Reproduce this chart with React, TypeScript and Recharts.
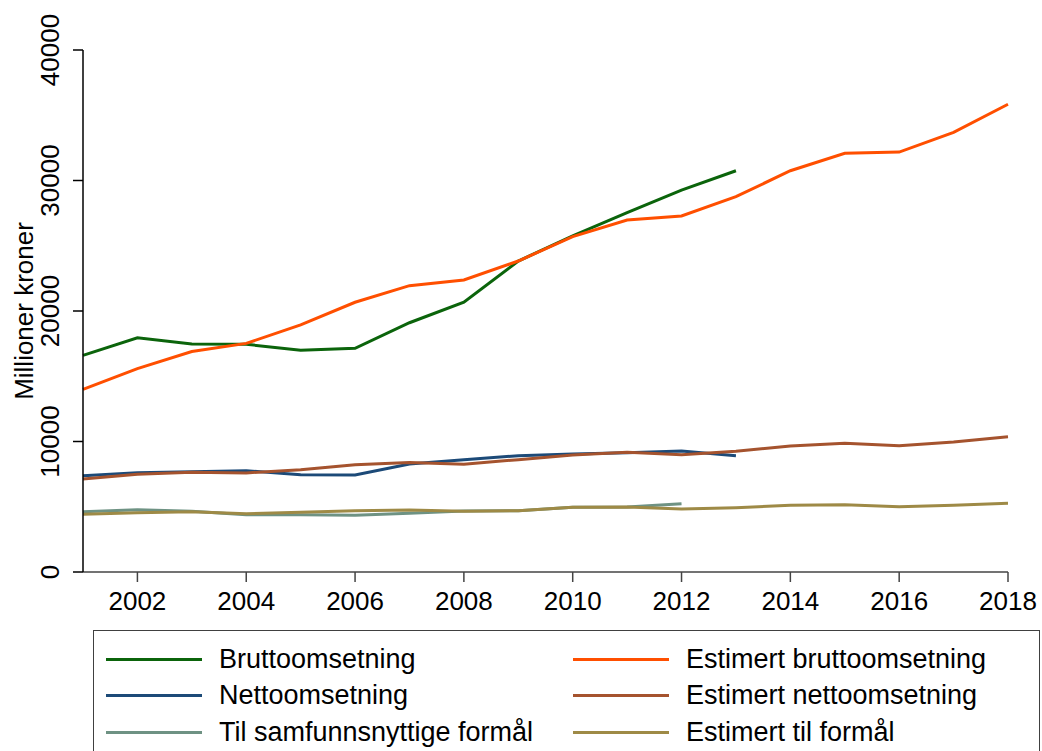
import React from 'react';
import { LineChart, Line, XAxis, YAxis, Legend } from 'recharts';

const years = [2001, 2002, 2003, 2004, 2005, 2006, 2007, 2008, 2009, 2010, 2011, 2012, 2013, 2014, 2015, 2016, 2017, 2018];

// registered figures (stop before 2018)
const brutto = [16600, 17950, 17470, 17450, 16990, 17140, 19100, 20670, 23830, 25750, 27530, 29270, 30750];
const netto = [7380, 7610, 7690, 7760, 7460, 7430, 8280, 8610, 8910, 9040, 9140, 9270, 8910];
const tilFormal = [4620, 4770, 4650, 4390, 4390, 4340, 4500, 4670, 4700, 4960, 4980, 5230];

// estimated figures, full period
const estBrutto = [14000, 15580, 16900, 17520, 18930, 20670, 21940, 22380, 23830, 25700, 26970, 27280, 28760, 30750, 32080, 32180, 33690, 35840];
const estNetto = [7130, 7490, 7640, 7590, 7840, 8220, 8400, 8250, 8610, 8970, 9170, 8990, 9250, 9660, 9860, 9680, 9960, 10370];
const estTil = [4420, 4540, 4620, 4470, 4570, 4700, 4750, 4650, 4700, 4960, 4980, 4830, 4930, 5110, 5160, 5000, 5110, 5260];

const xTicks = [2002, 2004, 2006, 2008, 2010, 2012, 2014, 2016, 2018];
const yTicks = [0, 10000, 20000, 30000, 40000];

const series = [
  { key: 'brutto', name: 'Bruttoomsetning', color: '#0b640b', values: brutto },
  { key: 'netto', name: 'Nettoomsetning', color: '#1c4a78', values: netto },
  { key: 'til', name: 'Til samfunnsnyttige formål', color: '#6e9283', values: tilFormal },
  { key: 'estBrutto', name: 'Estimert bruttoomsetning', color: '#ff4f00', values: estBrutto },
  { key: 'estNetto', name: 'Estimert nettoomsetning', color: '#a5532e', values: estNetto },
  { key: 'estTil', name: 'Estimert til formål', color: '#9e8a46', values: estTil },
];

const data = years.map((year, i) => {
  const row: Record<string, number | undefined> = { year };
  series.forEach((s) => {
    row[s.key] = s.values[i];
  });
  return row;
});

const FONT = '"Liberation Sans", Arial, sans-serif';

const XTick = ({ x, y, payload }: any) => (
  <text x={x} y={y + 26} textAnchor="middle" fontSize={26} fontFamily={FONT} fill="#000">
    {payload.value}
  </text>
);

const YTick = ({ x, y, payload }: any) => (
  <text
    x={x - 12}
    y={y}
    transform={`rotate(-90 ${x - 12} ${y})`}
    textAnchor="middle"
    fontSize={26}
    fontFamily={FONT}
    fill="#000"
  >
    {payload.value}
  </text>
);

const LegendBox = () => (
  <div
    style={{
      position: 'relative',
      width: 947,
      height: 140,
      border: '1px solid #404040',
      boxSizing: 'border-box',
      fontFamily: FONT,
      fontSize: 27,
      color: '#000',
    }}
  >
    {series.map((s, i) => {
      const col = i < 3 ? 0 : 1;
      const row = i % 3;
      const left = col === 0 ? 12 : 479;
      const top = 28 + row * 36.5;
      return (
        <div key={s.key} style={{ position: 'absolute', left, top: top - 15, height: 30, display: 'flex', alignItems: 'center', whiteSpace: 'nowrap' }}>
          <span style={{ display: 'inline-block', width: 96, height: 3, background: s.color, marginRight: 17 }} />
          <span>{s.name}</span>
        </div>
      );
    })}
  </div>
);

export default function App() {
  return (
    <div style={{ position: 'absolute', left: 0, top: 0, width: 1042, height: 751, background: '#fff', overflow: 'hidden' }}>
      <LineChart width={1042} height={751} data={data} margin={{ top: 50, right: 34, left: 0, bottom: 129 }}>
        <XAxis
          dataKey="year"
          type="number"
          domain={[2001, 2018]}
          ticks={xTicks}
          interval={0}
          tick={<XTick />}
          tickSize={10}
          stroke="#444"
          strokeWidth={1.5}
          height={50}
        />
        <YAxis
          type="number"
          domain={[0, 40000]}
          ticks={yTicks}
          interval={0}
          tick={<YTick />}
          tickSize={10}
          stroke="#000"
          strokeWidth={1.5}
          width={83}
          label={{
            value: 'Millioner kroner',
            angle: -90,
            position: 'insideLeft',
            content: () => (
              <text x={33} y={311} transform="rotate(-90 33 311)" textAnchor="middle" fontSize={26} fontFamily={FONT} fill="#000">
                Millioner kroner
              </text>
            ),
          }}
        />
        {series.map((s) => (
          <Line
            key={s.key}
            type="linear"
            dataKey={s.key}
            name={s.name}
            stroke={s.color}
            strokeWidth={3}
            dot={false}
            activeDot={false}
            connectNulls={false}
            isAnimationActive={false}
          />
        ))}
        <Legend
          layout="horizontal"
          verticalAlign="middle"
          align="center"
          content={<LegendBox />}
          wrapperStyle={{ position: 'absolute', left: 93, top: 630, width: 947, height: 140 }}
        />
      </LineChart>
    </div>
  );
}
